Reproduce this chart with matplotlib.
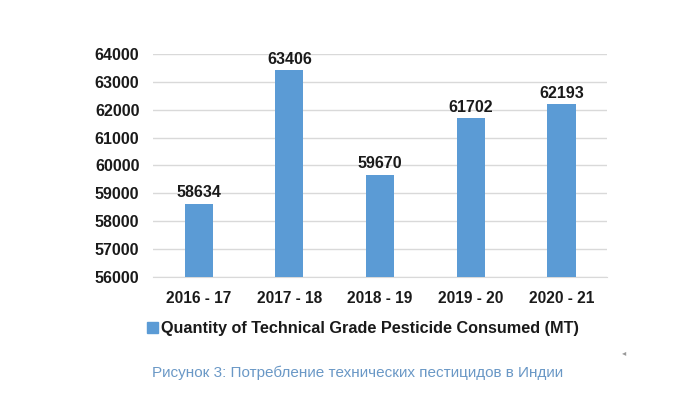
import matplotlib.pyplot as plt
from matplotlib.patches import Patch

years = ['2016 - 17', '2017 - 18', '2018 - 19', '2019 - 20', '2020 - 21']
consumed = [58634, 63406, 59670, 61702, 62193]
y_ticks = [56000, 57000, 58000, 59000, 60000, 61000, 62000, 63000, 64000]
series_name = 'Quantity of Technical Grade Pesticide Consumed (MT)'
caption = 'Рисунок 3: Потребление технических пестицидов в Индии'

plt.rcParams['font.family'] = ['Liberation Sans', 'DejaVu Sans']

fig = plt.figure(figsize=(7, 3.93), dpi=100)
ax = fig.add_axes([0.219, 0.295, 0.648, 0.568])

bar_color = '#5b9bd5'
x = range(len(years))
ax.bar(x, [v - y_ticks[0] for v in consumed], bottom=y_ticks[0], width=0.31,
       color=bar_color, zorder=3)
for i, v in enumerate(consumed):
    ax.text(i, v + 120, str(v), ha='center', va='bottom', fontsize=11.5,
            fontweight='bold', color='#1a1a1a')

ax.set_xlim(-0.5, len(years) - 0.5)
ax.set_ylim(y_ticks[0], y_ticks[-1])
ax.set_yticks(y_ticks)
ax.set_yticklabels([str(t) for t in y_ticks], fontsize=11.5, fontweight='bold', color='#1a1a1a')
ax.set_xticks(list(x))
ax.set_xticklabels(years, fontsize=11.2, fontweight='bold', color='#1a1a1a')
ax.tick_params(axis='both', length=0)
ax.tick_params(axis='y', pad=10)
ax.tick_params(axis='x', pad=10)
ax.grid(axis='y', color='#d9d9d9', linewidth=1, zorder=0)
for side in ['top', 'right', 'left']:
    ax.spines[side].set_visible(False)
ax.spines['bottom'].set_color('#d9d9d9')

fig.legend(handles=[Patch(color=bar_color, label=series_name)],
           loc='center', bbox_to_anchor=(0.519, 0.163), frameon=False,
           handlelength=0.65, handleheight=0.65, handletextpad=0.2,
           prop={'size': 11.7, 'weight': 'bold'}, labelcolor='#1a1a1a')

fig.text(0.511, 0.052, caption, ha='center', va='center', fontsize=11,
         color='#6a98c6')
fig.text(0.891, 0.104, '◂', ha='center', va='center', fontsize=6,
         color='#999999', family=['DejaVu Sans'])

fig.savefig('out.png', dpi=100)
